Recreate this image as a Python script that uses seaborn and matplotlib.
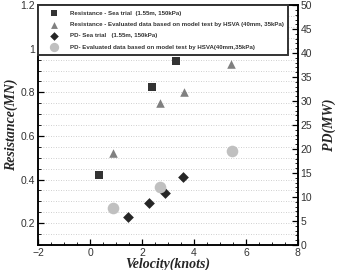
import matplotlib
matplotlib.use("Agg")
import matplotlib.pyplot as plt
from matplotlib.ticker import MultipleLocator, FormatStrFormatter
import seaborn as sns
import pandas as pd

# dados
res_sea_v = [0.35, 2.38, 3.31]
res_sea = [0.42, 0.825, 0.945]

res_hsva_v = [0.88, 2.69, 3.62, 5.42]
res_hsva = [0.522, 0.752, 0.80, 0.93]

pd_sea_v = [1.46, 2.27, 2.88, 3.58]
pd_sea = [5.8, 8.7, 10.8, 14.2]

pd_hsva_v = [0.9, 2.69, 5.46]
pd_hsva = [7.7, 12.1, 19.6]

labels = ["Resistance - Sea trial  (1.55m, 150kPa)",
          "Resistance - Evaluated data based on model test by HSVA (40mm, 35kPa)",
          "PD- Sea trial   (1.55m, 150kPa)",
          "PD- Evaluated data based on model test by HSVA(40mm,35kPa)"]

sns.set_style("ticks")
plt.rcParams['font.family'] = ['Liberation Sans', 'DejaVu Sans']

fig = plt.figure(figsize=(3.37, 2.70), dpi=100)
ax = fig.add_axes([0.113, 0.093, 0.771, 0.888])
ax2 = ax.twinx()

df1 = pd.DataFrame({'v': res_sea_v, 'r': res_sea})
df2 = pd.DataFrame({'v': res_hsva_v, 'r': res_hsva})
df3 = pd.DataFrame({'v': pd_sea_v, 'p': pd_sea})
df4 = pd.DataFrame({'v': pd_hsva_v, 'p': pd_hsva})

sns.scatterplot(data=df1, x='v', y='r', ax=ax, marker='s', color='#333333', s=30, linewidth=0, label=labels[0], legend=False)
sns.scatterplot(data=df2, x='v', y='r', ax=ax, marker='^', color='#808080', s=38, linewidth=0, label=labels[1], legend=False)
sns.scatterplot(data=df3, x='v', y='p', ax=ax2, marker='D', color='#262626', s=30, linewidth=0, label=labels[2], legend=False)
sns.scatterplot(data=df4, x='v', y='p', ax=ax2, marker='o', color='#c0c0c0', s=70, linewidth=0, label=labels[3], legend=False)

ax.set_xlim(-2, 8)
ax.set_ylim(0.1, 1.2)
ax2.set_ylim(0, 50)

ax.xaxis.set_major_locator(MultipleLocator(2))
ax.xaxis.set_minor_locator(MultipleLocator(0.5))
ax.yaxis.set_major_locator(MultipleLocator(0.2))
ax.yaxis.set_minor_locator(MultipleLocator(0.05))
ax.yaxis.set_major_formatter(FormatStrFormatter('%g'))
ax2.yaxis.set_major_locator(MultipleLocator(5))
ax2.yaxis.set_minor_locator(MultipleLocator(1))

ax.grid(True, axis='y', which='both', linestyle=(0, (1, 2)), color='#c0c0c0', linewidth=0.6)

for a in [ax, ax2]:
    a.tick_params(which='both', direction='in', labelsize=7.5, colors='black', labelcolor='#333333', pad=2)
    a.tick_params(which='major', length=4, width=0.9)
    a.tick_params(which='minor', length=2, width=0.6)
    for sp in a.spines.values():
        sp.set_linewidth(1.1)
        sp.set_color('black')
ax.tick_params(axis='y', which='both', right=False)
ax.tick_params(axis='x', which='both', top=False)
ax2.tick_params(axis='y', which='both', left=False)

serif = dict(family=['Liberation Serif', 'DejaVu Serif'], weight='bold', style='italic', size=10)
ax.set_xlabel("Velocity(knots)", fontdict=serif, labelpad=0)
ax.set_ylabel("Resistance(MN)", fontdict=serif, labelpad=2)
ax2.set_ylabel("PD(MW)", fontdict=serif, labelpad=7, rotation=90)

h1, l1 = ax.get_legend_handles_labels()
h2, l2 = ax2.get_legend_handles_labels()
leg = ax2.legend(h1 + h2, l1 + l2, loc='upper left', bbox_to_anchor=(0, 0.805, 0.962, 0.195),
                 mode='expand', prop={'weight': 'bold', 'size': 4.45},
                 frameon=True, fancybox=False, borderpad=0.9, labelspacing=0.95,
                 handlelength=3.2, handletextpad=1.0, borderaxespad=0, markerscale=0.8)
leg.get_frame().set_edgecolor('#333333')
leg.get_frame().set_linewidth(1.4)
leg.get_frame().set_facecolor('white')
leg.get_frame().set_alpha(1)
for t in leg.get_texts():
    t.set_color('#333333')

plt.savefig("out.png", dpi=100)
